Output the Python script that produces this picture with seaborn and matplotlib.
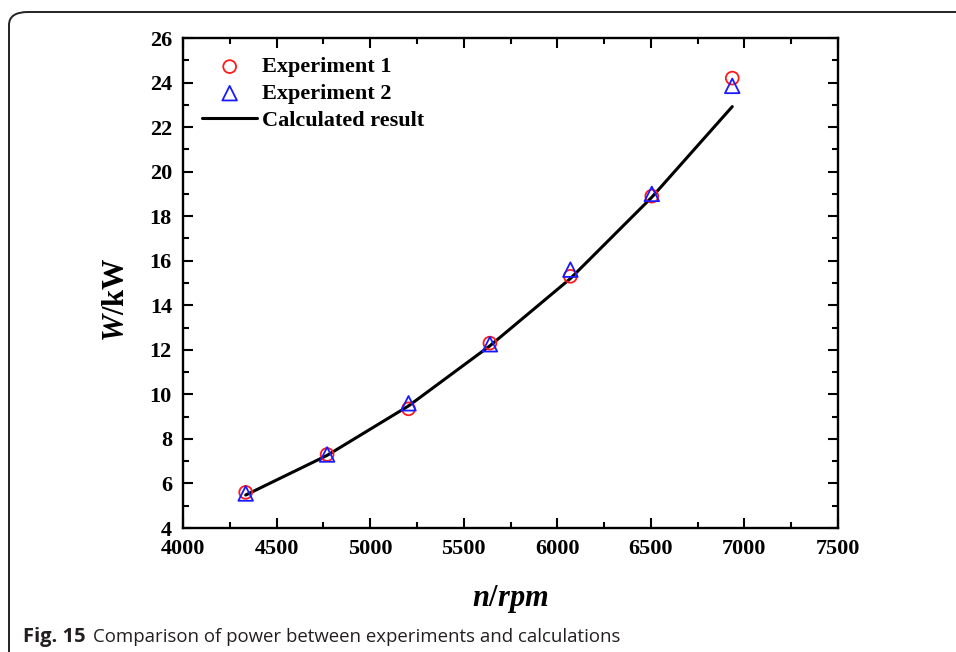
import matplotlib
matplotlib.use("Agg")
import matplotlib.pyplot as plt
from matplotlib.patches import FancyBboxPatch
from matplotlib.ticker import MultipleLocator
import seaborn as sns
import pandas as pd

# Rotational speed (rpm) and power (kW)
speed = [4335, 4770, 5205, 5640, 6070, 6505, 6935]
power_exp1 = [5.60, 7.30, 9.35, 12.30, 15.30, 18.90, 24.20]
power_exp2 = [5.55, 7.30, 9.60, 12.25, 15.60, 19.00, 23.85]
power_calc = [5.48, 7.26, 9.48, 12.18, 15.20, 18.85, 22.92]

x_ticks = [4000, 4500, 5000, 5500, 6000, 6500, 7000, 7500]
y_ticks = [4, 6, 8, 10, 12, 14, 16, 18, 20, 22, 24, 26]

sns.set_theme(style="ticks")
plt.rcParams["font.family"] = ["Liberation Serif", "DejaVu Serif"]
plt.rcParams["mathtext.fontset"] = "custom"
plt.rcParams["mathtext.it"] = "Liberation Serif:italic:bold"
plt.rcParams["mathtext.rm"] = "Liberation Serif:bold"
plt.rcParams["mathtext.bf"] = "Liberation Serif:bold"
for key in ["text.color", "axes.labelcolor", "xtick.color", "ytick.color",
            "axes.edgecolor"]:
    plt.rcParams[key] = "black"

df = pd.DataFrame({"speed": speed, "exp1": power_exp1,
                   "exp2": power_exp2, "calc": power_calc})

fig = plt.figure(figsize=(9.56, 6.52), dpi=100)
ax = fig.add_axes([183 / 956, 1 - 528 / 652, 655 / 956, 490 / 652])

sns.lineplot(data=df, x="speed", y="calc", ax=ax, color="black",
             linewidth=2.2, label="Calculated result", zorder=2)
sns.scatterplot(data=df, x="speed", y="exp1", ax=ax, marker="o", s=85,
                facecolor="none", edgecolor="#ff1a1a", linewidth=1.3,
                label="Experiment 1", zorder=3)
sns.scatterplot(data=df, x="speed", y="exp2", ax=ax, marker="^", s=110,
                facecolor="none", edgecolor="#1a1aff", linewidth=1.3,
                label="Experiment 2", zorder=4)

ax.set_xlim(4000, 7500)
ax.set_ylim(4, 26)
ax.set_xticks(x_ticks)
ax.set_yticks(y_ticks)
ax.xaxis.set_minor_locator(MultipleLocator(250))
ax.yaxis.set_minor_locator(MultipleLocator(1))
ax.tick_params(which="both", direction="in", top=True, right=True,
               width=1.5, labelsize=16)
ax.tick_params(which="major", length=7, pad=8)
ax.tick_params(which="minor", length=4)
for lab in ax.get_xticklabels() + ax.get_yticklabels():
    lab.set_fontweight("bold")
for sp in ax.spines.values():
    sp.set_linewidth(1.7)
    sp.set_visible(True)

ax.set_xlabel(r"$n$/$rpm$", fontsize=22, fontweight="bold", labelpad=17)
ax.set_ylabel(r"$W$/kW", fontsize=22, fontweight="bold")
ax.yaxis.set_label_coords(-0.079, 0.465)

handles, labels = ax.get_legend_handles_labels()
order = [labels.index("Experiment 1"), labels.index("Experiment 2"),
         labels.index("Calculated result")]
ax.legend([handles[i] for i in order], [labels[i] for i in order],
          loc="upper left", frameon=False, prop={"weight": "bold", "size": 16},
          handlelength=2.5, handletextpad=0.2, labelspacing=0.27,
          borderaxespad=0.45)

# Rounded frame around the figure panel
frame = FancyBboxPatch((9 / 956, -0.05), 1.2, 1 - 12 / 652 + 0.05,
                       boxstyle="round,pad=0,rounding_size=0.02",
                       transform=fig.transFigure, facecolor="none",
                       edgecolor="#222222", linewidth=1.4, clip_on=False)
fig.patches.append(frame)

fig.text(23 / 956, 1 - 642 / 652, "Fig. 15", fontsize=14.5, fontweight="bold",
         family=["Open Sans", "DejaVu Sans"], va="baseline", ha="left",
         color="#231f20")
fig.text(93 / 956, 1 - 642 / 652,
         "Comparison of power between experiments and calculations",
         fontsize=13.4, family=["Open Sans", "DejaVu Sans"],
         va="baseline", ha="left", color="#231f20")

fig.savefig("out.png", dpi=100)
